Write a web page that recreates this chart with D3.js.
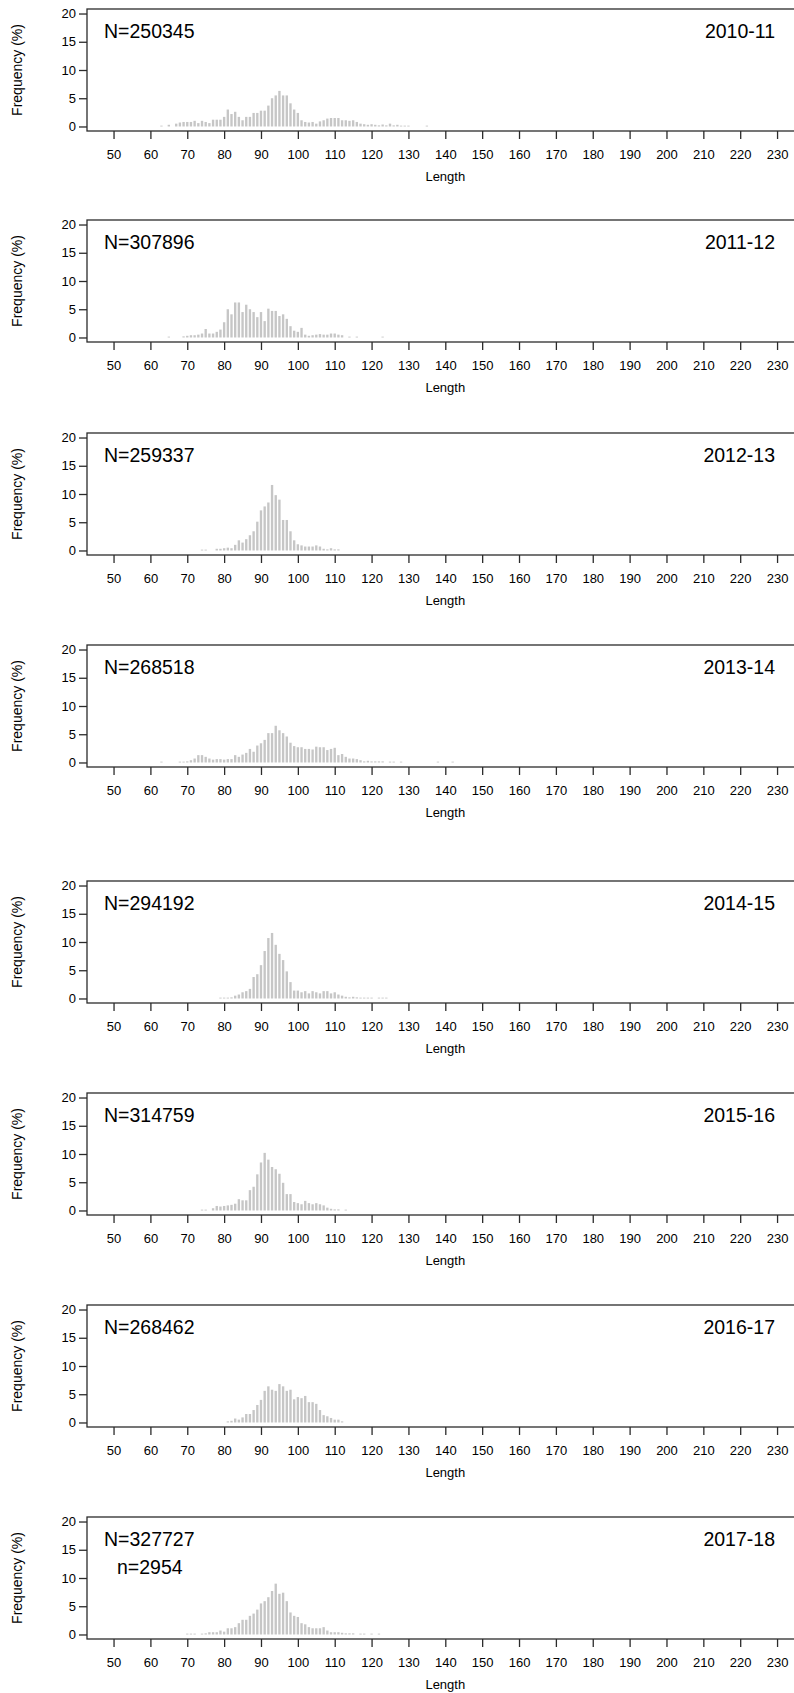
<!DOCTYPE html>
<html>
<head>
<meta charset="utf-8">
<script src="https://cdnjs.cloudflare.com/ajax/libs/d3/7.8.5/d3.min.js"></script>
<style>
  body { margin: 0; background: #ffffff; }
  text { font-family: "Liberation Sans", Arial, Helvetica, sans-serif; }
</style>
</head>
<body>
<script>
'use strict';

// season labels and sample sizes for each panel
let seasons = ["2010-11", "2011-12", "2012-13", "2013-14", "2014-15", "2015-16", "2016-17", "2017-18"];
let totals = ["N=250345", "N=307896", "N=259337", "N=268518", "N=294192", "N=314759", "N=268462", "N=327727"];
let subCounts = ["", "", "", "", "", "", "", "n=2954"];

// first length class of each frequency series (1 cm classes follow on)
let firstLength = [63, 65, 74, 63, 79, 74, 81, 70];

// frequency (%) per length class
let freq201011 = [0.15, 0, 0.3, 0, 0.5, 0.7, 0.8, 0.8, 0.8, 1.0, 0.6, 1.0, 0.8, 0.6, 1.2, 1.2, 1.2, 1.7,
  3.0, 2.2, 2.6, 1.7, 1.1, 1.7, 1.7, 2.4, 2.4, 2.8, 2.8, 3.7, 5.0, 5.5, 6.3, 5.5, 5.5, 4.1, 3.0, 2.4,
  1.1, 0.8, 0.7, 0.8, 0.5, 0.9, 1.1, 1.4, 1.5, 1.5, 1.5, 1.1, 1.1, 1.0, 1.1, 0.8, 0.5, 0.4, 0.3, 0.4,
  0.3, 0.2, 0.35, 0.2, 0.5, 0.2, 0.3, 0.15, 0.15, 0.15, 0, 0, 0, 0, 0.15];
let freq201112 = [0.15, 0, 0, 0, 0.2, 0.3, 0.4, 0.4, 0.5, 0.7, 1.5, 0.7, 0.7, 1.0, 1.4, 2.7, 5.0, 4.1,
  6.2, 6.2, 4.5, 5.8, 5.0, 4.5, 3.6, 4.5, 2.9, 5.1, 4.7, 4.7, 3.8, 4.1, 3.3, 2.0, 1.2, 1.0, 1.7, 0.5,
  0.3, 0.4, 0.5, 0.6, 0.5, 0.5, 0.7, 0.7, 0.5, 0.4, 0, 0.15, 0, 0.15, 0, 0, 0, 0, 0, 0, 0.15];
let freq201213 = [0.15, 0.15, 0, 0, 0.3, 0.3, 0.4, 0.5, 0.4, 1.0, 1.8, 1.4, 2.0, 2.7, 3.4, 5.1, 7.1, 7.8,
  8.5, 11.6, 9.8, 9.0, 5.4, 5.4, 3.4, 1.8, 1.1, 0.9, 0.7, 0.7, 0.7, 0.9, 0.7, 0.3, 0.2, 0.4, 0.2, 0.2];
let freq201314 = [0.15, 0, 0, 0, 0, 0.15, 0.15, 0.2, 0.4, 0.7, 1.3, 1.3, 1.0, 0.7, 0.5, 0.6, 0.6, 0.5,
  0.6, 0.6, 1.3, 1.0, 1.4, 1.7, 2.4, 1.9, 3.0, 3.4, 4.0, 5.2, 5.2, 6.5, 5.7, 5.2, 4.6, 3.5, 2.9, 2.7,
  2.7, 2.4, 2.4, 2.3, 2.8, 2.7, 2.7, 2.2, 2.4, 2.6, 1.3, 1.5, 1.0, 0.7, 0.7, 0.6, 0.4, 0.2, 0.3, 0.2,
  0.2, 0.2, 0.2, 0, 0.15, 0.15, 0, 0.15, 0, 0, 0, 0, 0, 0, 0, 0, 0, 0.15, 0, 0, 0, 0.15];
let freq201415 = [0.15, 0.15, 0.15, 0.2, 0.5, 0.7, 1.1, 1.3, 1.7, 3.8, 4.3, 5.9, 8.4, 10.7, 11.6, 9.5,
  7.9, 6.8, 4.8, 2.9, 1.4, 1.4, 1.1, 1.3, 0.9, 1.3, 1.1, 0.9, 1.3, 1.3, 0.9, 1.1, 0.7, 0.5, 0.3, 0.2,
  0.3, 0.2, 0.15, 0.15, 0.15, 0.15, 0, 0.15, 0.15, 0.15];
let freq201516 = [0.15, 0.15, 0, 0.4, 0.8, 0.7, 0.8, 0.9, 1.0, 1.2, 2.0, 1.8, 1.8, 3.6, 4.2, 6.4, 8.5,
  10.2, 9.0, 7.7, 7.3, 6.5, 4.9, 2.9, 2.9, 1.5, 1.3, 1.1, 1.7, 1.3, 1.1, 1.3, 1.1, 0.9, 0.5, 0.3, 0.2,
  0.2, 0, 0.15];
let freq201617 = [0.2, 0.3, 0.7, 0.5, 0.9, 1.5, 1.5, 2.2, 3.1, 4.0, 5.6, 6.4, 5.8, 5.6, 6.8, 6.4, 5.6,
  5.8, 4.1, 4.5, 4.3, 4.7, 3.6, 3.6, 3.3, 2.2, 1.3, 1.1, 0.8, 0.5, 0.5, 0.2];
let freq201718 = [0.15, 0.15, 0.15, 0, 0.15, 0.2, 0.4, 0.4, 0.4, 0.7, 0.5, 1.1, 1.1, 1.3, 2.0, 2.6, 2.6,
  3.3, 3.7, 4.4, 5.5, 5.9, 6.6, 7.7, 9.0, 7.2, 7.4, 5.9, 3.9, 3.3, 3.1, 2.0, 1.8, 1.3, 1.1, 1.1, 1.1,
  1.3, 0.7, 0.4, 0.4, 0.4, 0.3, 0.2, 0.2, 0.2, 0, 0.15, 0.15, 0, 0.15, 0, 0.15];

let allFreqs = [freq201011, freq201112, freq201213, freq201314, freq201415, freq201516, freq201617, freq201718];

// axis tick values
let xTicks = [50, 60, 70, 80, 90, 100, 110, 120, 130, 140, 150, 160, 170, 180, 190, 200, 210, 220, 230];
let yTicks = [0, 5, 10, 15, 20];

(function() {

  let svgContainer = ""; // keep SVG reference in global scope

  // top edge of every panel box (panel 5 sits a little lower)
  let panelTops = [9, 220, 433, 645, 881, 1093, 1305, 1517];
  let panelHeight = 122;
  let boxLeft = 87;
  let boxRight = 803.6; // right side runs past the page edge, like the original

  let barColour = "#c6c6c6";
  let inkColour = "#2b2b2b";

  window.onload = function() {
    svgContainer = d3.select('body')
      .append('svg')
      .attr('width', 794)
      .attr('height', 1693)
      .style('display', 'block');

    svgContainer.append('rect')
      .attr('width', 794)
      .attr('height', 1693)
      .attr('fill', '#ffffff');

    // length axis is shared by all panels: R style 4% padding round 50-230
    let xScale = d3.scaleLinear()
      .domain([42.8, 237.2])
      .range([boxLeft, boxRight]);

    for (let i = 0; i < seasons.length; i++) {
      makePanel(i, xScale);
    }
  };

  // one season: bars, box, both axes and labels
  function makePanel(i, xScale) {
    let top = panelTops[i];
    let bottom = top + panelHeight;

    let yScale = d3.scaleLinear()
      .domain([-0.8, 20.8])
      .range([bottom, top]);

    let panel = svgContainer.append('g').attr('class', 'panel');

    // turn series into length / frequency rows
    let rows = allFreqs[i].map((f, k) => ({ length: firstLength[i] + k, freq: f }))
      .filter((d) => d.freq > 0);

    panel.selectAll('.bar')
      .data(rows)
      .enter()
      .append('rect')
        .attr('class', 'bar')
        .attr('x', (d) => xScale(d.length - 0.32))
        .attr('width', (d) => xScale(d.length + 0.32) - xScale(d.length - 0.32))
        .attr('y', (d) => yScale(d.freq))
        .attr('height', (d) => yScale(0) - yScale(d.freq))
        .attr('fill', barColour);

    // frame round the plot region
    panel.append('rect')
      .attr('x', boxLeft)
      .attr('y', top)
      .attr('width', boxRight - boxLeft)
      .attr('height', panelHeight)
      .attr('fill', 'none')
      .attr('stroke', inkColour)
      .attr('stroke-width', 1.3);

    // x axis under the box
    let xAxis = d3.axisBottom(xScale)
      .tickValues(xTicks)
      .tickSize(8)
      .tickSizeOuter(0);
    let gx = panel.append('g')
      .attr('transform', 'translate(0,' + bottom + ')')
      .call(xAxis);
    gx.select('.domain').remove();
    gx.selectAll('line').attr('stroke', inkColour).attr('stroke-width', 1.3);
    gx.selectAll('text')
      .attr('y', 23)
      .attr('dy', '0.35em')
      .attr('fill', '#000')
      .style('font-size', '13px')
      .style('font-family', '"Liberation Sans", Arial, sans-serif');

    // y axis on the left
    let yAxis = d3.axisLeft(yScale)
      .tickValues(yTicks)
      .tickSize(8)
      .tickPadding(3)
      .tickSizeOuter(0);
    let gy = panel.append('g')
      .attr('transform', 'translate(' + boxLeft + ',0)')
      .call(yAxis);
    gy.select('.domain').remove();
    gy.selectAll('line').attr('stroke', inkColour).attr('stroke-width', 1.3);
    gy.selectAll('text')
      .attr('fill', '#000')
      .style('font-size', '13px')
      .style('font-family', '"Liberation Sans", Arial, sans-serif');

    // axis titles
    panel.append('text')
      .attr('x', xScale(140))
      .attr('y', bottom + 45)
      .attr('dy', '0.35em')
      .attr('text-anchor', 'middle')
      .style('font-size', '13px')
      .text('Length');

    panel.append('text')
      .attr('transform', 'translate(17.5,' + (top + panelHeight / 2) + ')rotate(-90)')
      .attr('dy', '0.35em')
      .attr('text-anchor', 'middle')
      .style('font-size', '14px')
      .text('Frequency (%)');

    // sample size and season in the corners
    panel.append('text')
      .attr('x', 104)
      .attr('y', top + 28.5)
      .style('font-size', '19.5px')
      .text(totals[i]);

    if (subCounts[i] !== "") {
      panel.append('text')
        .attr('x', 117)
        .attr('y', top + 57)
        .style('font-size', '19.5px')
        .text(subCounts[i]);
    }

    panel.append('text')
      .attr('x', 775)
      .attr('y', top + 28.5)
      .attr('text-anchor', 'end')
      .style('font-size', '19.5px')
      .text(seasons[i]);
  }

})();
</script>
</body>
</html>
